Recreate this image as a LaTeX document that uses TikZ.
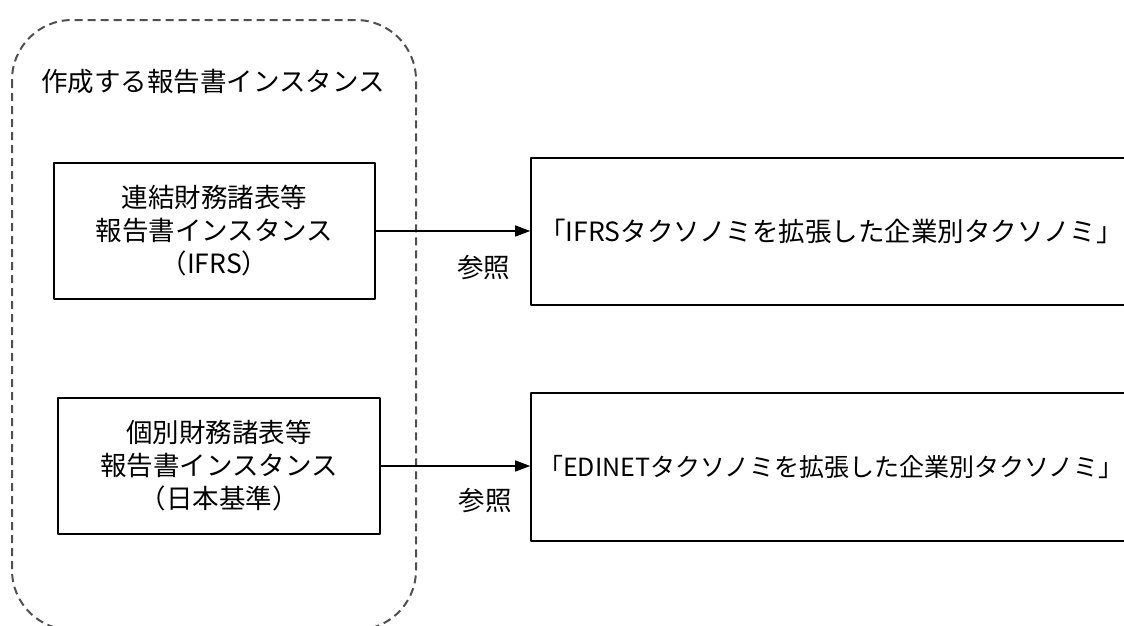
\documentclass[tikz,border=0pt]{standalone}
\usepackage{fontspec}
\setmainfont{Noto Sans CJK JP}
\usetikzlibrary{arrows.meta}
\definecolor{dashgray}{RGB}{80,80,80}
\begin{document}
\begin{tikzpicture}[x=1pt, y=-1pt, font=\fontsize{26.5}{33}\selectfont, line join=round,
  box/.style={draw, line width=1.6pt, align=center, inner sep=0pt},
  ref/.style={line width=1.3pt, -{Triangle[length=15pt, width=11pt]}}]
\useasboundingbox (0,0) rectangle (1124,625);
\draw[dashgray, line width=2pt, dash pattern=on 8pt off 5pt, rounded corners=60pt] (12,20) rectangle (416,630);
\node (title) at (213,82) {作成する報告書インスタンス};
\node[box, minimum width=321pt, minimum height=136pt] (ifrs) at (214.5,231) {連結財務諸表等\\報告書インスタンス\\（IFRS）};
\node[box, minimum width=322pt, minimum height=136pt] (jgaap) at (219,466) {個別財務諸表等\\報告書インスタンス\\（日本基準）};
\node[box, minimum width=600pt, minimum height=147pt] (ifrstx) at (831,231.5) {「IFRSタクソノミを拡張した企業別タクソノミ」};
\node[box, minimum width=600pt, minimum height=148pt, font=\fontsize{25}{33}\selectfont] (edinettx) at (831,467) {「EDINETタクソノミを拡張した企業別タクソノミ」};
\draw[ref] (ifrs.east) -- (ifrs.east -| ifrstx.west) node[pos=0.7, below=20pt]{参照};
\draw[ref] (jgaap.east) -- (jgaap.east -| edinettx.west) node[pos=0.7, below=18pt]{参照};
\end{tikzpicture}
\end{document}
